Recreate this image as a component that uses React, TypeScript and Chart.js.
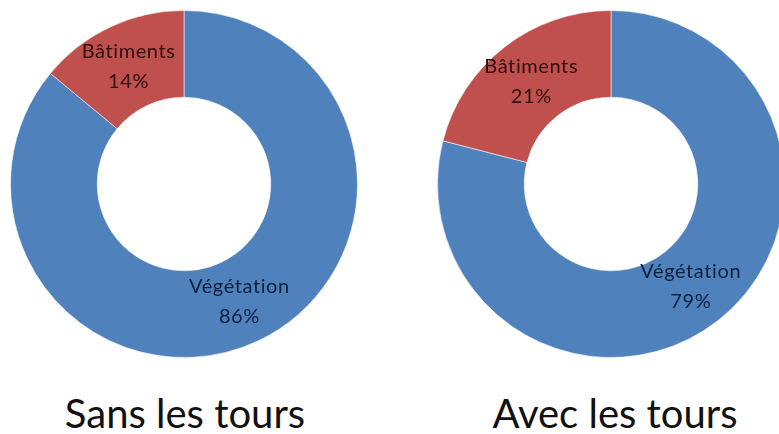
import React, { useEffect, useRef } from "react";
import { Chart, registerables } from "chart.js";

Chart.register(...registerables);

// Land cover shares, in percent
const categories = ["Végétation", "Bâtiments"];
const sansTours = [86, 14];
const avecTours = [79, 21];
const chartTitles = ["Sans les tours", "Avec les tours"];

const sliceColors = ["#4F81BD", "#C0504D"];
const labelColors = ["#0f1f3c", "#2e0e0e"];
const FONT = "Lato, 'Open Sans', sans-serif";

// Writes the category name and its share at the middle of each ring slice
const ringLabels = {
  id: "ringLabels",
  afterDatasetsDraw(chart: any) {
    const ctx = chart.ctx;
    const meta = chart.getDatasetMeta(0);
    const values: number[] = chart.data.datasets[0].data;
    const total = values.reduce((a, b) => a + b, 0);
    ctx.save();
    ctx.font = `20px ${FONT}`;
    (ctx as any).letterSpacing = "0.6px";
    ctx.textAlign = "center";
    ctx.textBaseline = "middle";
    meta.data.forEach((arc: any, i: number) => {
      const { x, y } = arc.getCenterPoint();
      ctx.fillStyle = labelColors[i];
      ctx.fillText(String(chart.data.labels[i]), x, y - 15);
      ctx.fillText(`${Math.round((values[i] / total) * 100)}%`, x, y + 15);
    });
    ctx.restore();
  },
};

function Ring({ values, left }: { values: number[]; left: number }) {
  const ref = useRef<HTMLCanvasElement>(null);
  useEffect(() => {
    if (!ref.current) return;
    const chart = new Chart(ref.current, {
      type: "doughnut",
      data: {
        labels: categories,
        datasets: [
          {
            data: values,
            backgroundColor: sliceColors,
            borderColor: "rgba(255,255,255,0.55)",
            borderWidth: 1,
          },
        ],
      },
      options: {
        responsive: false,
        animation: false,
        cutout: "50%",
        layout: { padding: 0 },
        plugins: {
          legend: { display: false },
          tooltip: { enabled: false },
          title: { display: false },
        },
      },
      plugins: [ringLabels],
    });
    return () => chart.destroy();
  }, [values]);
  return (
    <canvas
      ref={ref}
      width={348}
      height={348}
      style={{ position: "absolute", left, top: 10, width: 348, height: 348 }}
    />
  );
}

function Caption({ text, cx }: { text: string; cx: number }) {
  return (
    <div
      style={{
        position: "absolute",
        left: cx - 150,
        width: 300,
        top: 389,
        textAlign: "center",
        fontFamily: FONT,
        fontSize: 40,
        lineHeight: "48px",
        color: "#111",
        whiteSpace: "nowrap",
        fontVariantLigatures: "none",
      }}
    >
      {text}
    </div>
  );
}

export default function App() {
  return (
    <div
      style={{
        position: "fixed",
        left: 0,
        top: 0,
        width: 779,
        height: 434,
        overflow: "hidden",
        background: "#fff",
      }}
    >
      <Ring values={sansTours} left={10} />
      <Ring values={avecTours} left={437} />
      <Caption text={chartTitles[0]} cx={185} />
      <Caption text={chartTitles[1]} cx={615} />
    </div>
  );
}
